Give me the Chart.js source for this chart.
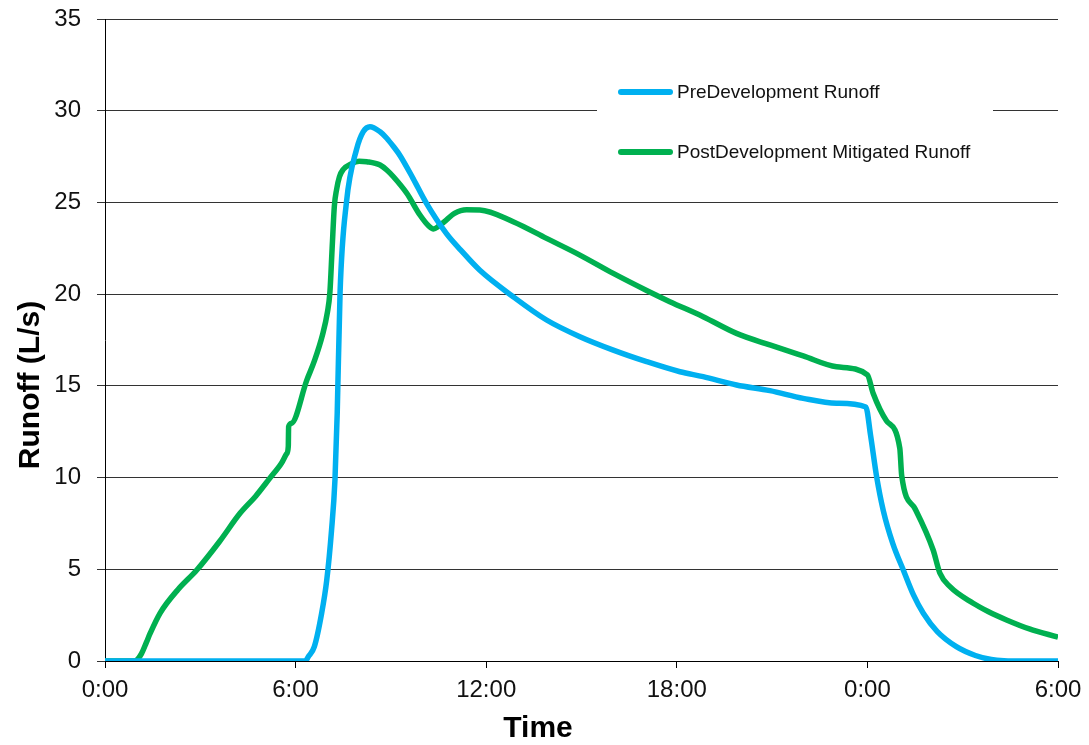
<!DOCTYPE html>
<html>
<head>
<meta charset="utf-8">
<script src="https://cdn.jsdelivr.net/npm/chart.js@4"></script>
<style>
  html, body { margin: 0; padding: 0; background: #fff; }
  #wrap { width: 1089px; height: 745px; position: relative; }
</style>
</head>
<body>
<div id="wrap"><canvas id="chart"></canvas></div>
<script>
// ===== DATA =====
const xTicks = [0, 6, 12, 18, 24, 30]; // hours since start

const preHours = [0, 6.3, 6.4, 6.59, 6.82, 6.98, 7.13, 7.24, 7.31, 7.4, 7.6, 7.92, 8.13, 8.34, 8.66, 8.87,
  9.08, 9.29, 9.7, 10.12, 10.75, 11.2, 11.8, 12.85, 13.9, 14.95, 16.0, 17.05, 18.1, 18.83, 19.88, 20.93,
  21.98, 23.03, 23.95, 24.1, 24.29, 24.5, 24.8, 25.13, 25.45, 25.76, 26.2, 26.8, 27.4, 27.9, 28.3, 28.6, 30];
const preRunoff = [0, 0, 0.23, 0.78, 2.6, 4.4, 7.1, 9.9, 13.5, 20.1, 25.0, 27.9, 28.86, 29.13, 28.85, 28.5,
  28.05, 27.55, 26.3, 24.95, 23.3, 22.4, 21.3, 19.86, 18.59, 17.68, 16.95, 16.32, 15.77, 15.5, 15.05, 14.74,
  14.32, 14.05, 13.85, 12.3, 10.05, 8.2, 6.4, 4.96, 3.6, 2.6, 1.6, 0.78, 0.3, 0.08, 0.01, 0, 0];

const postHours = [0, 0.9, 1.0, 1.15, 1.3, 1.42, 1.73, 2.3, 2.89, 3.6, 4.25, 4.75, 5.19, 5.56, 5.72, 5.77,
  5.78, 5.87, 6.35, 6.6, 6.85, 7.0, 7.08, 7.15, 7.22, 7.29, 7.38, 7.5, 7.75, 8.0, 8.24, 8.66, 8.87, 9.08,
  9.5, 9.92, 10.2, 10.34, 10.5, 10.75, 11.0, 11.38, 11.8, 12.85, 13.9, 14.95, 16.0, 17.05,
  17.78, 18.83, 19.88, 20.93, 21.98, 23.03, 24.0, 24.18, 24.6, 25.02, 25.08, 25.5, 26.07,
  26.28, 26.6, 27.33, 27.8, 28.38, 29.1, 30];
const postRunoff = [0, 0, 0.05, 0.4, 1.0, 1.5, 2.6, 3.9, 4.96, 6.5, 8.05, 9.0, 9.97, 10.8, 11.3, 11.7,
  12.77, 12.96, 15.3, 16.4, 17.8, 19.0, 20.1, 22.5, 24.8, 25.7, 26.4, 26.8, 27.1, 27.25, 27.22, 27.04, 26.77, 26.4,
  25.5, 24.3, 23.7, 23.55, 23.7, 24.05, 24.4, 24.6, 24.59, 23.95, 23.04, 22.13, 21.13, 20.2,
  19.59, 18.77, 17.86, 17.23, 16.63, 16.04, 15.6, 14.6, 13.1, 11.6, 10.1, 8.3, 6.05,
  4.8, 4.05, 3.15, 2.7, 2.24, 1.75, 1.3];

const toPoints = (xs, ys) => xs.map((x, i) => ({ x, y: ys[i] }));

// legend + axis titles drawn by hand so they land where the original put them
const extras = {
  id: 'extras',
  afterDraw(chart) {
    const ctx = chart.ctx;
    ctx.save();
    // legend box hides the 30 gridline behind it
    ctx.fillStyle = '#fff';
    ctx.fillRect(597, 62, 396, 112);
    const items = [
      { label: 'PreDevelopment Runoff', color: '#00B0F0', y: 92 },
      { label: 'PostDevelopment Mitigated Runoff', color: '#00B050', y: 152 },
    ];
    items.forEach(it => {
      ctx.strokeStyle = it.color;
      ctx.lineWidth = 6;
      ctx.lineCap = 'round';
      ctx.beginPath();
      ctx.moveTo(621, it.y);
      ctx.lineTo(670, it.y);
      ctx.stroke();
      ctx.fillStyle = '#111';
      ctx.font = '19px "Liberation Sans", Arial, sans-serif';
      ctx.textBaseline = 'middle';
      ctx.textAlign = 'left';
      ctx.fillText(it.label, 677, it.y + 1);
    });
    // axis titles
    ctx.fillStyle = '#000';
    ctx.font = 'bold 30px "Liberation Sans", Arial, sans-serif';
    ctx.textAlign = 'center';
    ctx.textBaseline = 'alphabetic';
    ctx.fillText('Time', 538, 737);
    ctx.translate(39, 385);
    ctx.rotate(-Math.PI / 2);
    ctx.fillText('Runoff (L/s)', 0, 0);
    ctx.restore();
  }
};

const tickFont = { family: '"Liberation Sans", Arial, sans-serif', size: 24 };

new Chart(document.getElementById('chart'), {
  type: 'line',
  data: {
    datasets: [
      {
        label: 'PreDevelopment Runoff',
        data: toPoints(preHours, preRunoff),
        borderColor: '#00B0F0',
        borderWidth: 5.5,
        pointRadius: 0,
        cubicInterpolationMode: 'monotone',
        fill: false
      },
      {
        label: 'PostDevelopment Mitigated Runoff',
        data: toPoints(postHours, postRunoff),
        borderColor: '#00B050',
        borderWidth: 5.5,
        pointRadius: 0,
        cubicInterpolationMode: 'monotone',
        fill: false
      }
    ]
  },
  options: {
    responsive: true,
    maintainAspectRatio: false,
    animation: false,
    layout: { padding: { top: 19, right: 31, left: 0, bottom: 0 } },
    plugins: {
      legend: { display: false },
      tooltip: { enabled: false }
    },
    scales: {
      x: {
        type: 'linear',
        min: 0,
        max: 30,
        afterBuildTicks: scale => { scale.ticks = xTicks.map(v => ({ value: v })); },
        afterFit: scale => {
          scale.height = 84;
          scale.paddingLeft = 0;
          scale.paddingRight = 0;
        },
        border: { color: '#000', width: 1 },
        grid: { drawOnChartArea: false, drawTicks: true, tickLength: 7, color: '#000' },
        ticks: {
          color: '#111',
          font: tickFont,
          padding: 8,
          maxRotation: 0,
          callback: v => (v % 24) + ':00'
        }
      },
      y: {
        min: 0,
        max: 35,
        afterFit: scale => {
          scale.width = 105;
          scale.paddingTop = 0;
          scale.paddingBottom = 0;
        },
        border: { color: '#000', width: 1 },
        grid: { color: '#333', lineWidth: 1, tickLength: 8 },
        ticks: { stepSize: 5, color: '#111', font: tickFont, padding: 16 }
      }
    }
  },
  plugins: [extras]
});
</script>
</body>
</html>
